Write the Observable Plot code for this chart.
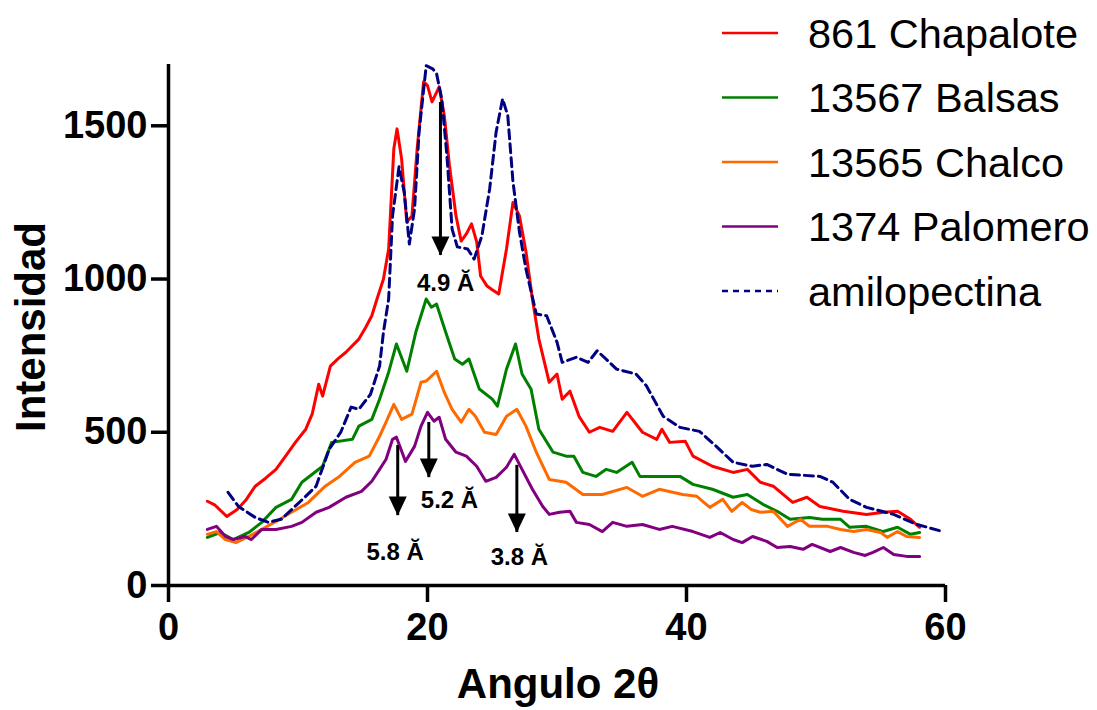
<!DOCTYPE html>
<html>
<head>
<meta charset="utf-8">
<script src="https://cdn.jsdelivr.net/npm/d3@7"></script>
<script src="https://cdn.jsdelivr.net/npm/@observablehq/plot@0.6"></script>
<style>
  body { margin: 0; background: #ffffff; }
  #chart { position: relative; width: 1097px; height: 710px; overflow: hidden; }
</style>
</head>
<body>
<div id="chart"></div>
<script>
// ---------------- data ----------------
const seriesNames = ["861 Chapalote", "13567 Balsas", "13565 Chalco", "1374 Palomero", "amilopectina"];
const seriesColors = ["#ff0000", "#008000", "#ff6a00", "#800080", "#000080"];

const chapalote = [
  [3.0,275],[3.6,262],[4.5,225],[5.3,248],[6.0,280],[6.7,324],[7.5,350],[8.3,379],[9.0,420],[9.8,467],
  [10.6,510],[11.1,560],[11.4,618],[11.6,657],[11.9,618],[12.5,716],[13.1,740],[13.7,761],[14.7,804],[15.2,840],
  [15.7,880],[16.1,935],[16.6,1000],[17.0,1098],[17.4,1425],[17.65,1490],[18.0,1392],[18.4,1186],[18.8,1206],[19.2,1425],
  [19.7,1644],[20.0,1631],[20.35,1578],[20.9,1627],[21.3,1533],[21.7,1369],[22.2,1206],[22.6,1124],[23.0,1147],[23.4,1180],
  [23.8,1121],[24.1,1010],[24.6,977],[25.0,965],[25.5,951],[26.1,1098],[26.6,1250],[27.1,1206],[27.6,1090],[28.1,935],
  [28.6,804],[29.4,663],[30.0,690],[30.4,608],[31.0,634],[31.7,552],[32.5,500],[33.3,516],[34.3,503],[35.4,565],
  [36.6,500],[37.7,477],[38.1,510],[38.7,467],[39.9,471],[40.5,422],[42.0,389],[43.6,369],[44.7,379],[45.7,337],
  [46.7,324],[48.2,271],[49.3,288],[50.3,258],[52.1,242],[53.9,232],[55.2,239],[56.3,242],[57.3,216],[58.0,190]
];
const balsas = [
  [3.0,157],[4.0,173],[5.0,150],[6.2,173],[7.2,206],[8.3,255],[9.5,281],[10.3,337],[11.1,363],[11.9,389],
  [12.6,467],[14.2,477],[14.7,520],[15.7,542],[16.3,608],[17.0,696],[17.6,788],[18.4,699],[19.1,827],[19.9,935],
  [20.3,908],[20.7,918],[21.4,827],[22.1,739],[22.7,722],[23.2,739],[24.0,641],[25.0,608],[25.4,585],[26.1,706],
  [26.8,788],[27.3,690],[28.0,640],[28.6,510],[29.7,435],[30.7,422],[31.3,422],[32.0,369],[33.0,356],[33.8,379],
  [34.6,369],[35.8,402],[36.4,356],[37.7,356],[39.5,356],[40.5,330],[42.0,314],[43.6,288],[44.7,297],[45.9,265],
  [47.0,242],[48.0,216],[49.5,222],[50.5,216],[51.9,216],[52.6,190],[53.9,193],[55.2,176],[56.3,190],[57.3,167],[58.0,173]
];
const chalco = [
  [3.0,167],[3.7,176],[4.4,150],[5.2,140],[6.2,160],[7.2,183],[8.3,209],[9.5,239],[10.8,271],[12.1,324],
  [13.2,356],[14.4,402],[15.5,422],[16.3,487],[16.8,533],[17.4,591],[18.0,542],[18.8,559],[19.5,663],[19.9,667],
  [20.7,699],[21.3,630],[21.9,575],[22.6,533],[23.2,575],[23.7,552],[24.4,500],[25.3,493],[26.1,552],[26.9,575],
  [27.6,520],[28.4,435],[29.4,346],[30.7,337],[32.0,297],[33.5,297],[35.4,320],[36.6,291],[37.9,314],[39.7,297],
  [40.8,291],[41.8,255],[42.8,281],[43.5,242],[44.3,271],[45.0,248],[45.7,239],[46.7,242],[47.8,193],[48.8,216],
  [49.5,193],[50.9,193],[51.9,183],[52.9,176],[53.9,183],[55.0,173],[55.5,157],[56.3,176],[57.0,160],[58.0,157]
];
const palomero = [
  [3.0,183],[3.7,193],[4.4,160],[5.0,150],[5.9,160],[6.4,150],[7.2,183],[8.3,183],[9.5,193],[10.3,206],
  [11.4,239],[12.4,255],[13.7,288],[14.9,307],[15.7,340],[16.3,379],[16.8,412],[17.3,477],[17.6,484],[18.3,405],
  [19.0,454],[19.5,520],[20.0,565],[20.5,536],[20.9,549],[21.4,477],[22.2,435],[23.0,422],[23.8,389],[24.5,340],
  [25.3,353],[26.1,386],[26.7,428],[27.3,379],[28.1,314],[28.9,258],[29.4,232],[30.2,239],[31.0,242],[31.5,206],
  [32.5,199],[33.5,176],[34.3,206],[35.4,193],[36.6,199],[37.9,183],[38.9,193],[40.5,176],[41.8,157],[42.6,173],
  [43.6,150],[44.3,140],[45.1,160],[46.2,144],[47.0,124],[48.0,127],[49.0,118],[49.7,134],[51.1,111],[51.9,124],
  [52.9,108],[53.8,98],[54.4,108],[55.2,124],[56.0,101],[57.0,95],[58.0,95]
];
const amilopectina = [
  [4.6,304],[5.4,258],[6.7,222],[7.7,206],[8.7,216],[10.1,271],[11.4,324],[12.4,444],[13.3,500],[14.1,582],
  [14.7,575],[15.6,624],[16.3,716],[16.6,827],[17.0,935],[17.3,1206],[17.8,1366],[18.2,1284],[18.6,1114],[19.0,1229],
  [19.35,1480],[19.9,1696],[20.4,1686],[20.7,1670],[21.1,1588],[21.5,1402],[21.9,1163],[22.3,1105],[23.1,1098],[23.6,1065],
  [24.2,1141],[24.8,1294],[25.3,1480],[25.8,1588],[26.2,1533],[26.6,1317],[27.1,1154],[27.6,1033],[28.4,886],[29.2,880],
  [30.0,794],[30.4,728],[31.5,745],[32.4,728],[33.1,766],[34.6,706],[36.1,690],[36.9,652],[38.2,552],[39.5,516],
  [41.0,503],[42.3,454],[43.6,402],[45.1,389],[46.2,395],[47.8,363],[50.3,356],[51.3,337],[52.6,281],[53.9,255],
  [56.0,232],[57.8,199],[59.8,176]
];

// peak annotations (data coordinates)
const peakLabels = ["4.9 Ă", "5.2 Ă", "5.8 Ă", "3.8 Ă"];
const peakX      = [21.0, 20.1, 17.7, 26.9];
const peakTop    = [1576, 532, 457, 392];
const peakTip    = [1077, 352, 228, 173];
const labelX     = [21.4, 21.7, 17.5, 27.1];
const labelY     = [986, 277, 108, 91];

const xTicks = [0, 20, 40, 60];
const yTicks = [0, 500, 1000, 1500];
const xLabel = "Angulo 2θ";
const yLabel = "Intensidad";

// ---------------- build tables ----------------
const seriesData = [chapalote, balsas, chalco, palomero, amilopectina];
const rows = seriesData.flatMap((s, i) => s.map(([x, y]) => ({series: seriesNames[i], x, y})));
const solidRows = rows.filter(d => d.series !== "amilopectina");
const dashedRows = rows.filter(d => d.series === "amilopectina");
const arrows = peakLabels.map((label, i) => ({label, x: peakX[i], y1: peakTop[i], y2: peakTip[i], tx: labelX[i], ty: labelY[i]}));

const font = "'Liberation Sans', Arial, Helvetica, sans-serif";

const arrowHead = {
  draw(context) {
    context.moveTo(-9, -19);
    context.lineTo(9, -19);
    context.lineTo(0, 0);
    context.closePath();
  }
};

const plot = Plot.plot({
  width: 1097,
  height: 710,
  marginLeft: 168,
  marginRight: 152,
  marginTop: 64,
  marginBottom: 125,
  style: {fontFamily: font, background: "#ffffff", color: "#000000", overflow: "visible"},
  x: {domain: [0, 60]},
  y: {domain: [0, 1700]},
  color: {domain: seriesNames, range: seriesColors},
  marks: [
    Plot.line(solidRows, {x: "x", y: "y", z: "series", stroke: "series", strokeWidth: 3, strokeLinejoin: "round"}),
    Plot.line(dashedRows, {x: "x", y: "y", stroke: "series", strokeWidth: 3, strokeDasharray: "9,5"}),
    Plot.ruleX(arrows, {x: "x", y1: "y1", y2: "y2", stroke: "black", strokeWidth: 3}),
    Plot.dot(arrows, {x: "x", y: "y2", symbol: arrowHead, fill: "black", stroke: "none", r: 5}),
    Plot.text(arrows, {x: "tx", y: "ty", text: "label", fontSize: 24, fontWeight: "bold", fill: "black"}),
    Plot.ruleY([0], {stroke: "black", strokeWidth: 3.5}),
    Plot.ruleX([0], {stroke: "black", strokeWidth: 3.5}),
    Plot.axisX({ticks: xTicks, tickSize: 17, tickPadding: 11, tickFormat: d => String(d), fontSize: 38, fontWeight: "bold", strokeWidth: 3.5, label: null}),
    Plot.axisY({ticks: yTicks, tickSize: 17, tickPadding: 4, tickFormat: d => String(d), fontSize: 38, fontWeight: "bold", strokeWidth: 3.5, label: null})
  ]
});

document.getElementById("chart").appendChild(plot);

// axis titles and legend drawn in the same SVG
const svg = d3.select(plot);
svg.append("text")
  .attr("transform", "translate(30,327) rotate(-90)")
  .attr("text-anchor", "middle")
  .attr("dominant-baseline", "central")
  .style("font-family", font).style("font-size", "42px").style("font-weight", "bold")
  .text(yLabel);
svg.append("text")
  .attr("x", 558).attr("y", 698)
  .attr("text-anchor", "middle")
  .style("font-family", font).style("font-size", "42px").style("font-weight", "bold")
  .text(xLabel);

const legend = svg.append("g").attr("text-anchor", "start");
seriesNames.forEach((name, i) => {
  const y = 33 + i * 64.5;
  legend.append("line")
    .attr("x1", 722).attr("x2", 778).attr("y1", y).attr("y2", y)
    .attr("stroke", seriesColors[i]).attr("stroke-width", 2.5)
    .attr("stroke-dasharray", name === "amilopectina" ? "6,5" : null);
  legend.append("text")
    .attr("x", 808).attr("y", y)
    .attr("text-anchor", "start")
    .attr("dominant-baseline", "central")
    .style("font-family", font).style("font-size", "41.5px").style("font-weight", "normal")
    .attr("fill", "black")
    .text(name);
});
</script>
</body>
</html>
